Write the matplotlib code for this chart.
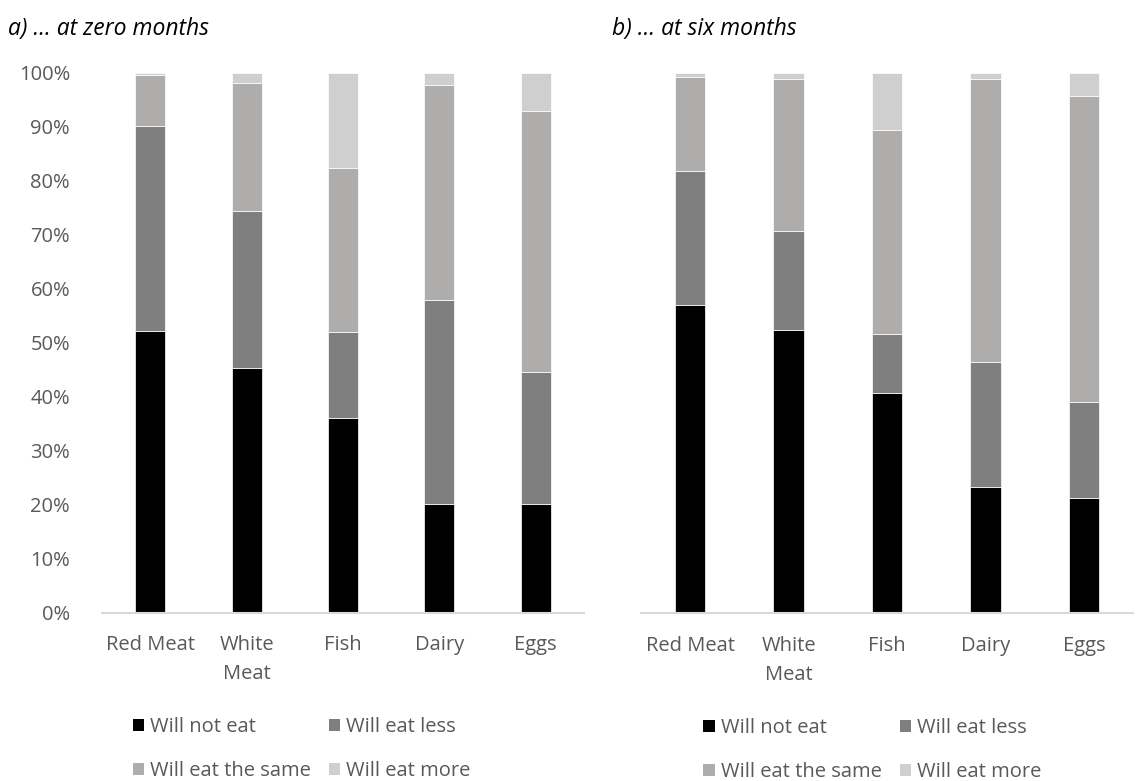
import matplotlib
matplotlib.use("Agg")
import matplotlib.pyplot as plt
import numpy as np
from matplotlib.ticker import PercentFormatter
from matplotlib.patches import Patch

plt.rcParams['font.family'] = ['Open Sans', 'DejaVu Sans']

categories = ["Red Meat", "White\nMeat", "Fish", "Dairy", "Eggs"]
series_names = ["Will not eat", "Will eat less", "Will eat the same", "Will eat more"]
colors = ["#000000", "#7f7f7f", "#afadac", "#d0cfcf"]

# shares (percent) at zero months
zero_not_eat = [52.2, 45.4, 36.0, 20.1, 20.1]
zero_less = [37.9, 29.0, 15.9, 37.8, 24.5]
zero_same = [9.5, 23.7, 30.4, 39.8, 48.4]
zero_more = [0.4, 1.9, 17.7, 2.3, 7.0]

# shares (percent) at six months
six_not_eat = [57.0, 52.4, 40.8, 23.3, 21.3]
six_less = [24.8, 18.3, 10.9, 23.1, 17.8]
six_same = [17.4, 28.1, 37.7, 52.5, 56.5]
six_more = [0.8, 1.2, 10.6, 1.1, 4.4]

panels = [
    ("a) … at zero months", [zero_not_eat, zero_less, zero_same, zero_more]),
    ("b) … at six months", [six_not_eat, six_less, six_same, six_more]),
]

fig = plt.figure(figsize=(11.41, 7.81), dpi=100)
ax_pos = [[0.0894, 0.2155, 0.4224, 0.6914], [0.5618, 0.2147, 0.4312, 0.6922]]
title_x = [8 / 1141, 612 / 1141]
legend_x = [0.415, 0.47]
text_col = "#595959"
fs = 14.5

for i, (title, data) in enumerate(panels):
    ax = fig.add_axes(ax_pos[i])
    x = np.arange(len(categories))
    bottom = np.zeros(len(categories))
    for vals, name, c in zip(data, series_names, colors):
        v = np.array(vals) / 100
        ax.bar(x, v, width=0.31, bottom=bottom, color=c, label=name,
               edgecolor="white", linewidth=0.5)
        bottom += v
    ax.set_xlim(-0.5, len(categories) - 0.5)
    ax.set_ylim(0, 1)
    ax.set_xticks(x)
    ax.set_xticklabels(categories, fontsize=fs, color=text_col, linespacing=1.6)
    ax.tick_params(axis="x", length=0, pad=16)
    for s in ["top", "right", "left"]:
        ax.spines[s].set_visible(False)
    ax.spines["bottom"].set_color("#d9d9d9")
    ax.spines["bottom"].set_linewidth(1.5)
    if i == 0:
        ax.set_yticks(np.arange(0, 1.01, 0.1))
        ax.yaxis.set_major_formatter(PercentFormatter(1.0, decimals=0))
        ax.tick_params(axis="y", length=0, labelsize=fs, labelcolor=text_col, pad=23)
    else:
        ax.set_yticks([])
    fig.text(title_x[i], 1 - 35 / 781, title, fontsize=16.5, style="italic",
             va="baseline", ha="left", color="black")

    handles = [Patch(facecolor=c) for c in colors]
    order = [0, 2, 1, 3]
    ax.legend([handles[k] for k in order], [series_names[k] for k in order],
              ncol=2, loc="upper center", bbox_to_anchor=(legend_x[i], -0.16),
              frameon=False, fontsize=fs, labelcolor=text_col,
              handlelength=0.55, handleheight=0.55, handletextpad=0.3,
              columnspacing=0.9, labelspacing=1.2)

fig.savefig("out.png", dpi=100)
